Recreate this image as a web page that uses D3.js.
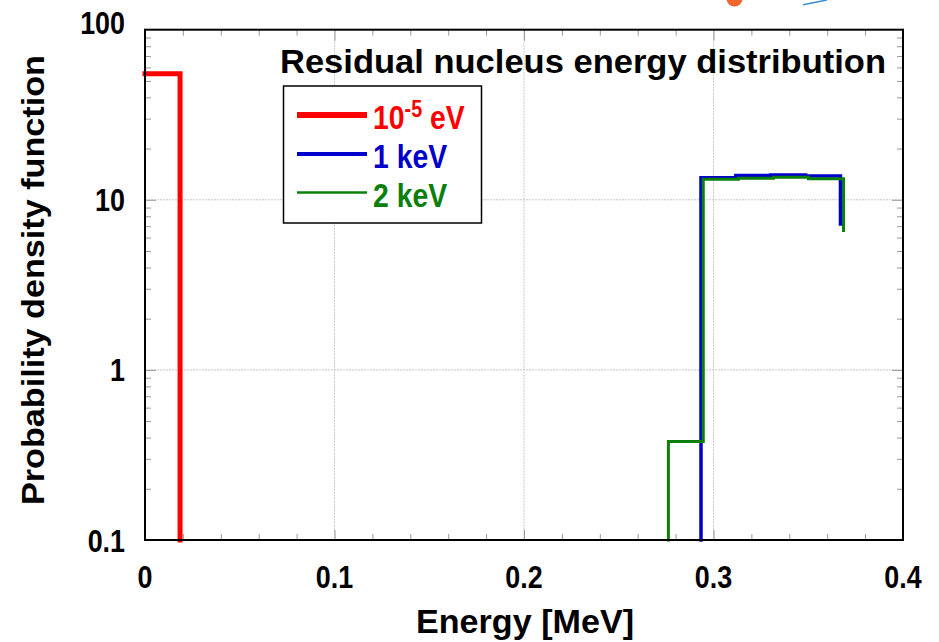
<!DOCTYPE html>
<html><head><meta charset="utf-8">
<script src="https://cdn.jsdelivr.net/npm/d3@7"></script>
<style>
html,body{margin:0;padding:0;background:#fff;}
svg{display:block;}
text{font-family:"Liberation Sans",Arial,Helvetica,sans-serif;font-weight:bold;}
</style></head><body>
<svg id="chart" width="939" height="642"></svg>
<script>
// Axis ticks
const xTicks = [0, 0.1, 0.2, 0.3, 0.4];
const xTickLabels = ["0", "0.1", "0.2", "0.3", "0.4"];
const yTicks = [0.1, 1, 10, 100];
const yTickLabels = ["0.1", "1", "10", "100"];

// Incident neutron at 1e-5 eV: single bin near zero energy
const redEdges = [0, 0.0185];
const redValues = [55];
// Incident neutron at 1 keV
const blueEdges = [0.2934, 0.3118, 0.3302, 0.3486, 0.367];
const blueValues = [13.5, 13.9, 14.0, 13.8];
const blueTail = 7.2;
// Incident neutron at 2 keV
const greenEdges = [0.2762, 0.2946, 0.3131, 0.3316, 0.3501, 0.3686];
const greenValues = [0.38, 13.2, 13.4, 13.55, 13.3];
const greenTail = 6.6;

const legendItems = [
  { base: "10", sup: "-5", rest: " eV", color: "#ff0000", width: 6 },
  { base: "1 keV", sup: "", rest: "", color: "#0000cc", width: 4 },
  { base: "2 keV", sup: "", rest: "", color: "#0a800a", width: 2.5 }
];

const W = 939, H = 642;
const L = 145, R = 903, T = 29.7, B = 540;
const svg = d3.select("#chart");

const x = d3.scaleLinear().domain([0, 0.4]).range([L, R]);
const y = d3.scaleLog().domain([0.1, 100]).range([B, T]);

// decorative fragments at the top edge
svg.append("circle").attr("cx", 734.5).attr("cy", -1.5).attr("r", 8).attr("fill", "#f26430");
svg.append("line").attr("x1", 803).attr("y1", 4.7).attr("x2", 827).attr("y2", 0)
  .attr("stroke", "#3a8fd0").attr("stroke-width", 1.5);

// grid lines
const grid = svg.append("g");
xTicks.slice(1, -1).forEach(t => {
  grid.append("line").attr("x1", x(t)).attr("x2", x(t)).attr("y1", T).attr("y2", B)
    .attr("stroke", "#c8c8c8").attr("stroke-width", 1).attr("stroke-dasharray", "2,1");
});
yTicks.slice(1, -1).forEach(t => {
  grid.append("line").attr("y1", y(t)).attr("y2", y(t)).attr("x1", L).attr("x2", R)
    .attr("stroke", "#c8c8c8").attr("stroke-width", 1).attr("stroke-dasharray", "2,1");
});

// minor and major ticks on all four sides
const xMinor = d3.range(1, 20).map(i => i * 0.02).filter(v => Math.abs(v * 10 - Math.round(v * 10)) > 1e-6);
const xMajorInner = xTicks.slice(1, -1);
const yMinor = [];
[0.1, 1, 10].forEach(d => { for (let k = 2; k <= 9; k++) yMinor.push(d * k); });
const yMajorInner = yTicks.slice(1, -1);

function tickAxis(axis, pos, size) {
  const g = svg.append("g").attr("transform", pos).call(axis.tickSize(size).tickFormat(""));
  g.select(".domain").remove();
  g.selectAll(".tick line").attr("stroke", "#999").attr("stroke-width", 1);
  return g;
}
tickAxis(d3.axisBottom(x).tickValues(xMinor), `translate(0,${B})`, -6);
tickAxis(d3.axisBottom(x).tickValues(xMajorInner), `translate(0,${B})`, -10);
tickAxis(d3.axisTop(x).tickValues(xMinor), `translate(0,${T})`, -6);
tickAxis(d3.axisTop(x).tickValues(xMajorInner), `translate(0,${T})`, -11);
tickAxis(d3.axisLeft(y).tickValues(yMinor), `translate(${L},0)`, -6);
tickAxis(d3.axisLeft(y).tickValues(yMajorInner), `translate(${L},0)`, -11);
tickAxis(d3.axisRight(y).tickValues(yMinor), `translate(${R},0)`, -6);
tickAxis(d3.axisRight(y).tickValues(yMajorInner), `translate(${R},0)`, -11);

// histogram step paths
function stepPoints(edges, values, head, tail) {
  const pts = [];
  if (head !== null) pts.push([edges[0], head]);
  values.forEach((v, i) => { pts.push([edges[i], v]); pts.push([edges[i + 1], v]); });
  pts.push([edges[edges.length - 1], tail]);
  return pts;
}
const line = d3.line().x(d => x(d[0])).y(d => y(d[1]));
const floor = y.domain()[0];

svg.append("path").datum(stepPoints(blueEdges, blueValues, floor, blueTail))
  .attr("d", line).attr("fill", "none").attr("stroke", "#0000cc").attr("stroke-width", 3.5)
  .attr("stroke-linecap", "square").attr("stroke-linejoin", "miter");
svg.append("path").datum(stepPoints(greenEdges, greenValues, floor, greenTail))
  .attr("d", line).attr("fill", "none").attr("stroke", "#0a800a").attr("stroke-width", 3)
  .attr("stroke-linecap", "square").attr("stroke-linejoin", "miter");
svg.append("path").datum(stepPoints(redEdges, redValues, null, floor))
  .attr("d", line).attr("fill", "none").attr("stroke", "#ff0000").attr("stroke-width", 5)
  .attr("stroke-linecap", "square").attr("stroke-linejoin", "miter");

// frame
svg.append("rect").attr("x", L).attr("y", T).attr("width", R - L).attr("height", B - T)
  .attr("fill", "none").attr("stroke", "#000").attr("stroke-width", 2);

// tick labels (condensed bold)
xTicks.forEach((t, i) => {
  svg.append("text").attr("transform", `translate(${x(t)},588) scale(0.84,1)`)
    .attr("text-anchor", "middle").attr("font-size", 32).attr("fill", "#000").text(xTickLabels[i]);
});
yTicks.forEach((t, i) => {
  const dy = i === yTicks.length - 1 ? 4.5 : 11.5;
  svg.append("text").attr("transform", `translate(125,${y(t) + dy}) scale(0.84,1)`)
    .attr("text-anchor", "end").attr("font-size", 32).attr("fill", "#000").text(yTickLabels[i]);
});

// axis titles
svg.append("text").attr("x", 525).attr("y", 633).attr("text-anchor", "middle")
  .attr("font-size", 34).attr("textLength", 218).attr("lengthAdjust", "spacingAndGlyphs")
  .text("Energy [MeV]");
svg.append("text").attr("transform", "translate(44,280) rotate(-90)").attr("text-anchor", "middle")
  .attr("font-size", 31).attr("textLength", 450).attr("lengthAdjust", "spacingAndGlyphs")
  .text("Probability density function");

// chart title
svg.append("text").attr("x", 280).attr("y", 73).attr("font-size", 34)
  .attr("textLength", 606).attr("lengthAdjust", "spacingAndGlyphs")
  .text("Residual nucleus energy distribution");

// legend
const lg = svg.append("g");
lg.append("rect").attr("x", 283.5).attr("y", 86).attr("width", 198).attr("height", 137)
  .attr("fill", "#fff").attr("stroke", "#000").attr("stroke-width", 1.5);
const rowY = [115, 154, 192.5];
legendItems.forEach((it, i) => {
  lg.append("line").attr("x1", 297).attr("x2", 367).attr("y1", rowY[i]).attr("y2", rowY[i])
    .attr("stroke", it.color).attr("stroke-width", it.width);
  const tx = lg.append("text").attr("transform", `translate(373,${rowY[i] + 14}) scale(0.86,1)`)
    .attr("font-size", 33).attr("fill", it.color);
  tx.append("tspan").text(it.base);
  if (it.sup) {
    tx.append("tspan").attr("font-size", 23).attr("dy", -12).text(it.sup);
    tx.append("tspan").attr("dy", 12).text(it.rest);
  }
});
</script>
</body></html>
